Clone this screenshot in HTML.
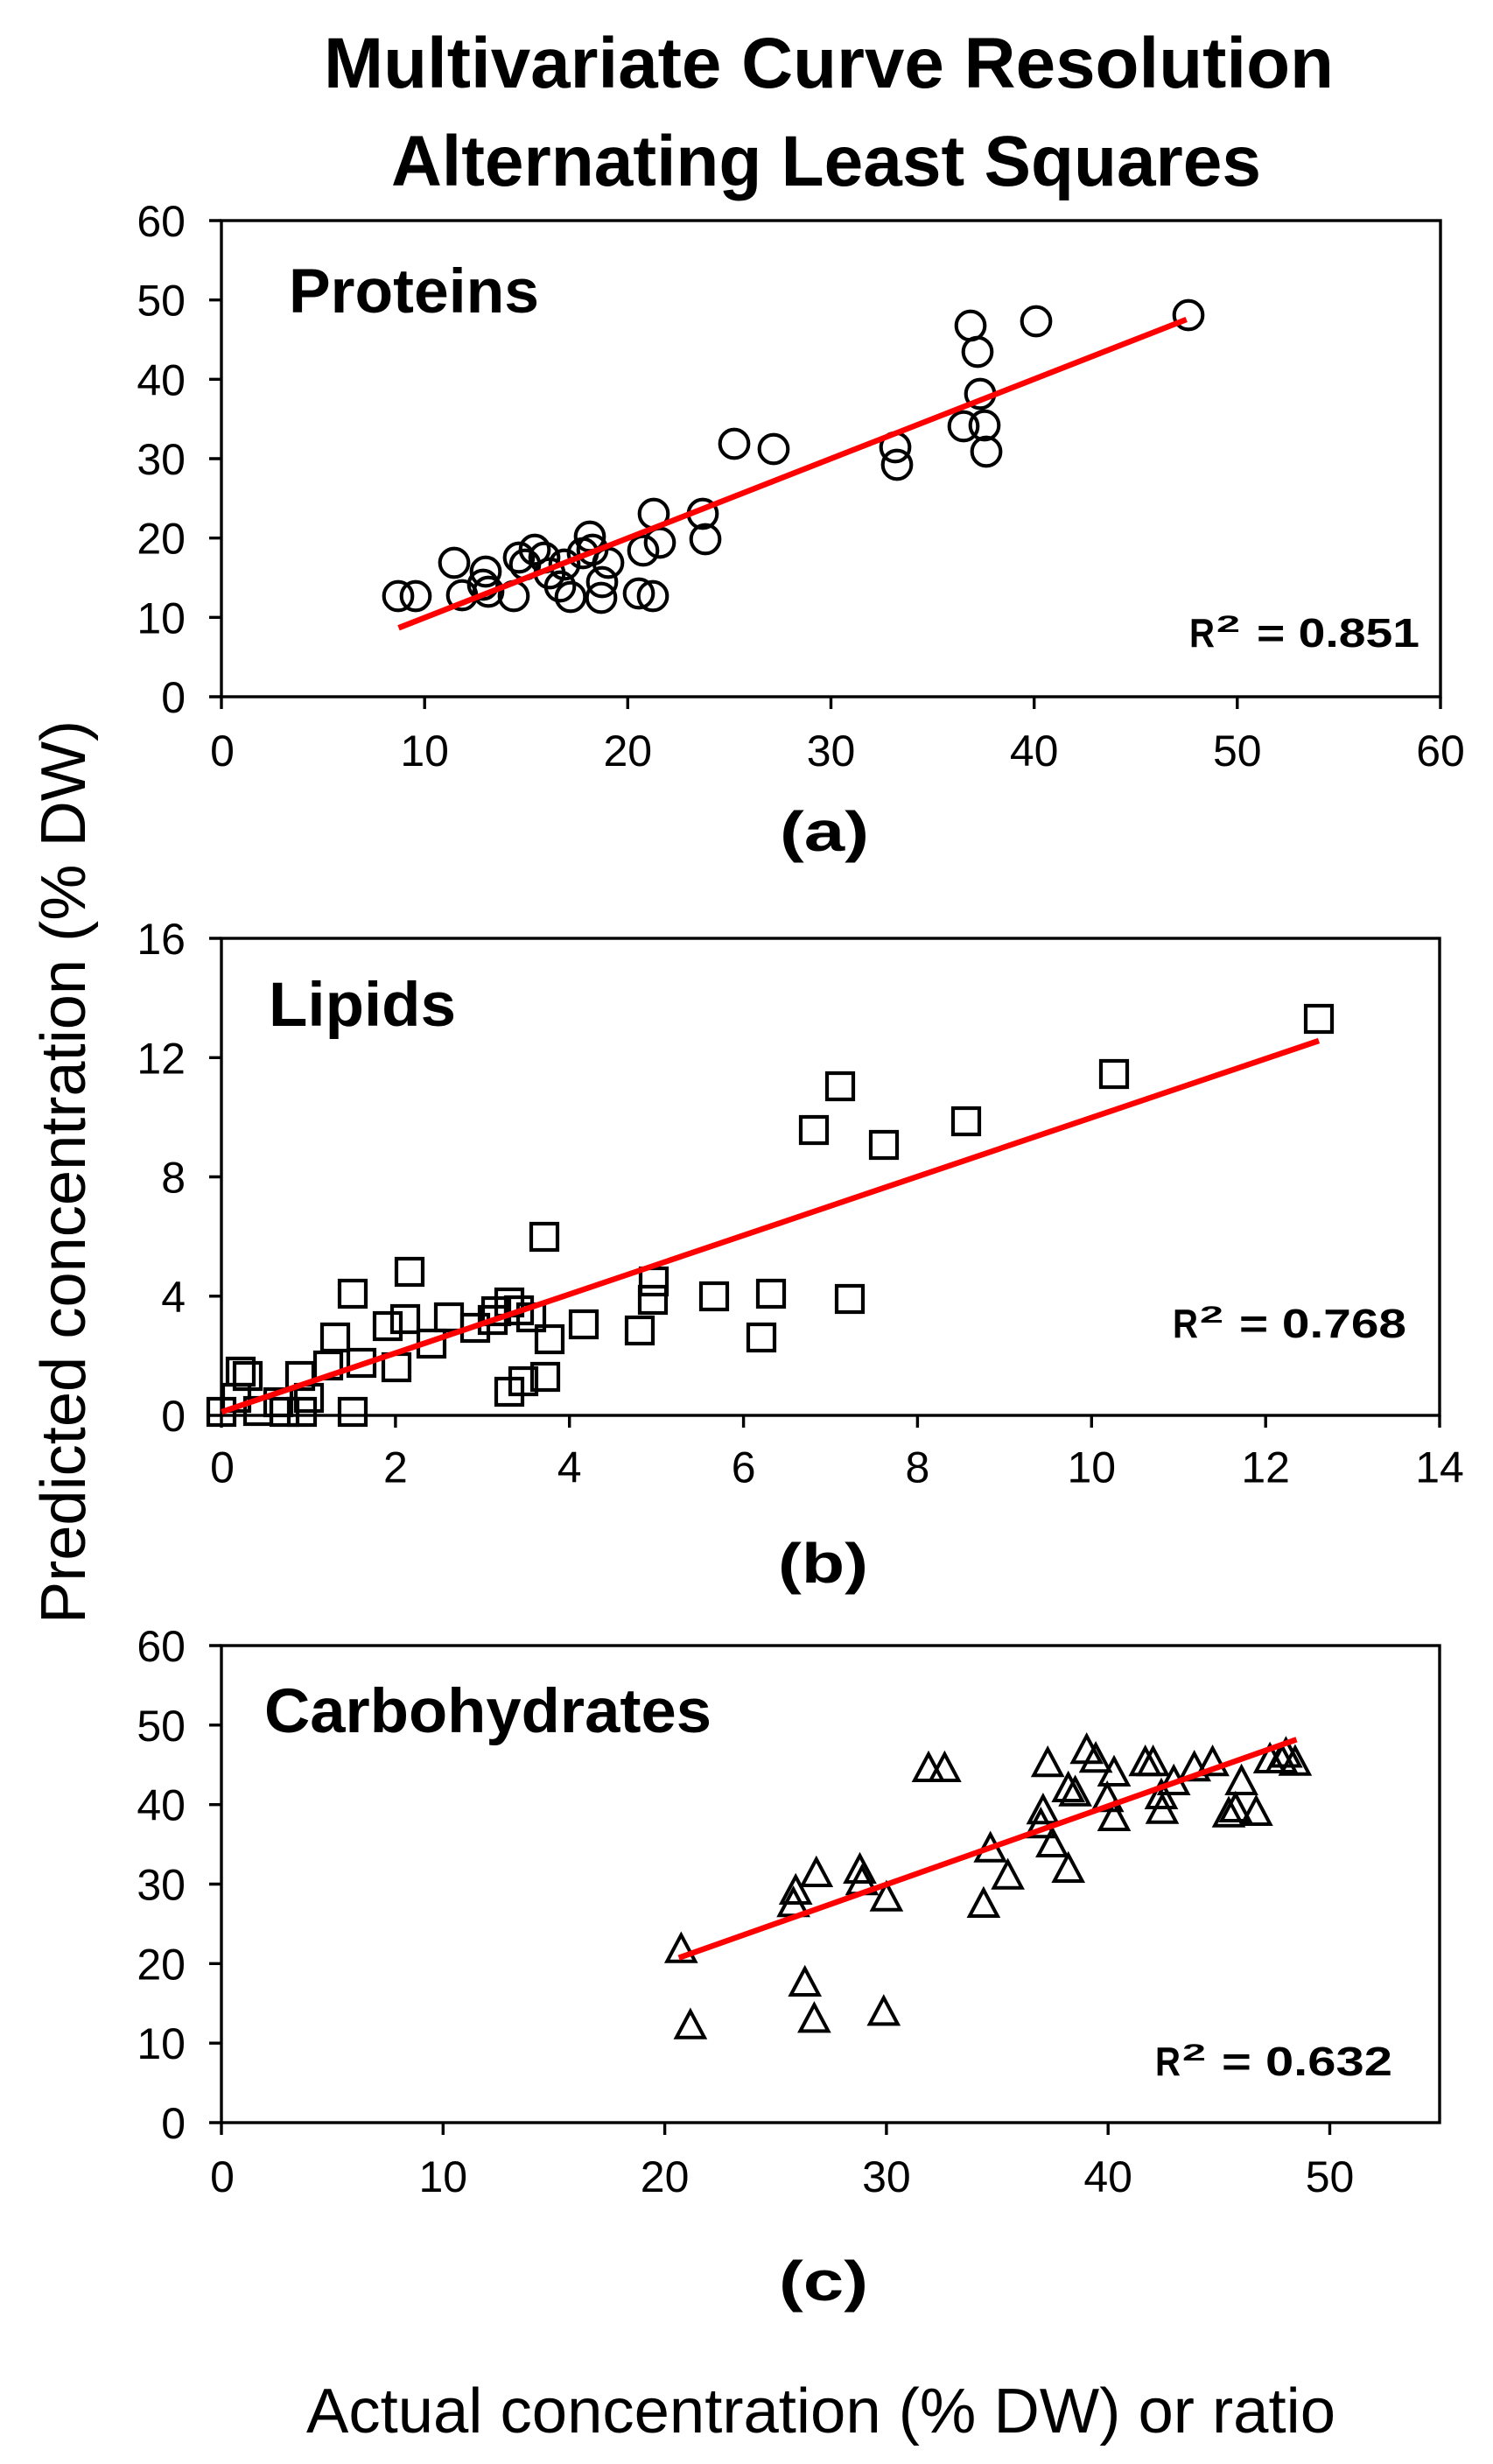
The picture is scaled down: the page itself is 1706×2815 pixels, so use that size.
<!DOCTYPE html>
<html><head><meta charset="utf-8"><style>
html,body{margin:0;padding:0;background:#fff;}
svg{display:block;}
text{font-family:"Liberation Sans",Arial,sans-serif;fill:#000;}
.tk{font-size:50px;}
.b{font-weight:bold;}
</style></head><body>
<svg width="1706" height="2815" viewBox="0 0 1706 2815" xmlns="http://www.w3.org/2000/svg">
<rect width="1706" height="2815" fill="#fff"/>
<!-- Title -->
<text class="b" x="370" y="100" font-size="82" textLength="1154" lengthAdjust="spacingAndGlyphs">Multivariate Curve Resolution</text>
<text class="b" x="447" y="212" font-size="82" textLength="994" lengthAdjust="spacingAndGlyphs">Alternating Least Squares</text>

<!-- Y axis label -->
<text transform="translate(97,1339) rotate(-90)" x="0" y="0" font-size="72" text-anchor="middle" textLength="1032" lengthAdjust="spacingAndGlyphs">Predicted concentration (% DW)</text>
<!-- X axis label -->
<text x="350" y="2779" font-size="72" textLength="1176" lengthAdjust="spacingAndGlyphs">Actual concentration (% DW) or ratio</text>

<!-- ============ Plot (a) ============ -->
<g stroke="#000" stroke-width="3.4" fill="none">
<rect x="253" y="252" width="1393" height="544"/>
<path d="M239 796H253M239 705.3H253M239 614.7H253M239 524H253M239 433.3H253M239 342.7H253M239 252H253"/>
<path d="M253 796V810M485.2 796V810M717.3 796V810M949.5 796V810M1181.7 796V810M1413.8 796V810M1646 796V810"/>
</g>
<g class="tk" text-anchor="end">
<text x="212" y="814">0</text><text x="212" y="723.3">10</text><text x="212" y="632.7">20</text><text x="212" y="542">30</text><text x="212" y="451.3">40</text><text x="212" y="360.7">50</text><text x="212" y="270">60</text>
</g>
<g class="tk" text-anchor="middle">
<text x="254" y="875">0</text><text x="485.2" y="875">10</text><text x="717.3" y="875">20</text><text x="949.5" y="875">30</text><text x="1181.7" y="875">40</text><text x="1413.8" y="875">50</text><text x="1646" y="875">60</text>
</g>
<text class="b" x="330" y="357" font-size="71" textLength="286" lengthAdjust="spacingAndGlyphs">Proteins</text>
<g fill="none" stroke="#000" stroke-width="4.1">
<circle cx="1358" cy="360" r="16.3"/><circle cx="1184" cy="367" r="16.3"/><circle cx="1109" cy="372" r="16.3"/><circle cx="1117" cy="402" r="16.3"/>
<circle cx="1120" cy="450" r="16.3"/><circle cx="1125" cy="486" r="16.3"/><circle cx="1101" cy="487" r="16.3"/><circle cx="1127" cy="516" r="16.3"/>
<circle cx="1023" cy="511" r="16.3"/><circle cx="1025" cy="531" r="16.3"/><circle cx="839" cy="507" r="16.3"/><circle cx="884" cy="513" r="16.3"/>
<circle cx="747" cy="587" r="16.3"/><circle cx="803" cy="587" r="16.3"/><circle cx="806" cy="616" r="16.3"/><circle cx="754" cy="620" r="16.3"/>
<circle cx="735" cy="629" r="16.3"/><circle cx="746" cy="681" r="16.3"/><circle cx="730" cy="678" r="16.3"/><circle cx="674" cy="613" r="16.3"/>
<circle cx="677" cy="628" r="16.3"/><circle cx="695" cy="643" r="16.3"/><circle cx="688" cy="665" r="16.3"/><circle cx="687" cy="683" r="16.3"/>
<circle cx="652" cy="682" r="16.3"/><circle cx="640" cy="670" r="16.3"/><circle cx="645" cy="645" r="16.3"/><circle cx="622" cy="637" r="16.3"/>
<circle cx="611" cy="628" r="16.3"/><circle cx="593" cy="637" r="16.3"/><circle cx="587" cy="681" r="16.3"/><circle cx="552" cy="668" r="16.3"/>
<circle cx="555" cy="653" r="16.3"/><circle cx="528" cy="680" r="16.3"/><circle cx="519" cy="643" r="16.3"/><circle cx="475" cy="681" r="16.3"/>
<circle cx="455" cy="681" r="16.3"/><circle cx="558" cy="676" r="16.3"/><circle cx="628" cy="655" r="16.3"/><circle cx="666" cy="632" r="16.3"/>
<circle cx="600" cy="645" r="16.3"/>
</g>
<line x1="455.5" y1="717.3" x2="1355.7" y2="365" stroke="#ff0000" stroke-width="6.5"/>
<text class="b" x="1359" y="739" font-size="46" textLength="29" lengthAdjust="spacingAndGlyphs">R</text>
<text class="b" x="1390" y="722" font-size="27" textLength="27" lengthAdjust="spacingAndGlyphs">2</text>
<text class="b" x="1436" y="739" font-size="46" textLength="186" lengthAdjust="spacingAndGlyphs">= 0.851</text>
<text class="b" x="891" y="972" font-size="64" textLength="102" lengthAdjust="spacingAndGlyphs">(a)</text>

<!-- ============ Plot (b) ============ -->
<g stroke="#000" stroke-width="3.4" fill="none">
<rect x="253" y="1072" width="1392" height="545"/>
<path d="M239 1617H253M239 1480.8H253M239 1344.5H253M239 1208.3H253M239 1072H253"/>
<path d="M253 1617V1631M451.9 1617V1631M650.7 1617V1631M849.6 1617V1631M1048.4 1617V1631M1247.3 1617V1631M1446.2 1617V1631M1645 1617V1631"/>
</g>
<g class="tk" text-anchor="end">
<text x="212" y="1635">0</text><text x="212" y="1498.8">4</text><text x="212" y="1362.5">8</text><text x="212" y="1226.3">12</text><text x="212" y="1090">16</text>
</g>
<g class="tk" text-anchor="middle">
<text x="254" y="1693.5">0</text><text x="451.9" y="1693.5">2</text><text x="650.7" y="1693.5">4</text><text x="849.6" y="1693.5">6</text><text x="1048.4" y="1693.5">8</text><text x="1247.3" y="1693.5">10</text><text x="1446.2" y="1693.5">12</text><text x="1645" y="1693.5">14</text>
</g>
<text class="b" x="307" y="1172" font-size="71" textLength="214" lengthAdjust="spacingAndGlyphs">Lipids</text>
<g fill="none" stroke="#000" stroke-width="4.2">
<rect x="1492" y="1149" width="30" height="30"/><rect x="1258" y="1212" width="30" height="30"/><rect x="945" y="1226" width="30" height="30"/>
<rect x="915" y="1276" width="30" height="30"/><rect x="995" y="1293" width="30" height="30"/><rect x="1089" y="1266" width="30" height="30"/>
<rect x="732" y="1449" width="30" height="30"/><rect x="731" y="1470" width="30" height="30"/><rect x="801" y="1466" width="30" height="30"/>
<rect x="866" y="1463" width="30" height="30"/><rect x="956" y="1469" width="30" height="30"/><rect x="855" y="1513" width="30" height="30"/>
<rect x="716" y="1505" width="30" height="30"/>
<rect x="607" y="1398" width="30" height="30"/><rect x="453" y="1438" width="30" height="30"/><rect x="388" y="1463" width="30" height="30"/>
<rect x="448" y="1492" width="30" height="30"/><rect x="428" y="1500" width="30" height="30"/><rect x="498" y="1490" width="30" height="30"/>
<rect x="478" y="1520" width="30" height="30"/><rect x="528" y="1502" width="30" height="30"/><rect x="567" y="1473" width="30" height="30"/>
<rect x="552" y="1483" width="30" height="30"/><rect x="548" y="1493" width="30" height="30"/><rect x="578" y="1482" width="30" height="30"/>
<rect x="592" y="1490" width="30" height="30"/><rect x="613" y="1515" width="30" height="30"/><rect x="652" y="1498" width="30" height="30"/>
<rect x="608" y="1558" width="30" height="30"/><rect x="583" y="1563" width="30" height="30"/><rect x="567" y="1575" width="30" height="30"/>
<rect x="438" y="1547" width="30" height="30"/><rect x="398" y="1542" width="30" height="30"/><rect x="368" y="1513" width="30" height="30"/>
<rect x="360" y="1545" width="30" height="30"/><rect x="328" y="1557" width="30" height="30"/><rect x="388" y="1598" width="30" height="30"/>
<rect x="330" y="1598" width="30" height="30"/><rect x="238" y="1598" width="30" height="30"/><rect x="255" y="1582" width="30" height="30"/>
<rect x="268" y="1557" width="30" height="30"/><rect x="260" y="1552" width="30" height="30"/><rect x="280" y="1597" width="30" height="30"/>
<rect x="303" y="1587" width="30" height="30"/><rect x="310" y="1598" width="30" height="30"/><rect x="338" y="1582" width="30" height="30"/>
</g>
<line x1="253.3" y1="1613" x2="1507" y2="1189" stroke="#ff0000" stroke-width="6.5"/>
<text class="b" x="1340" y="1528" font-size="46" textLength="29" lengthAdjust="spacingAndGlyphs">R</text>
<text class="b" x="1371" y="1511" font-size="27" textLength="27" lengthAdjust="spacingAndGlyphs">2</text>
<text class="b" x="1416" y="1528" font-size="46" textLength="191" lengthAdjust="spacingAndGlyphs">= 0.768</text>
<text class="b" x="889" y="1808" font-size="64" textLength="103" lengthAdjust="spacingAndGlyphs">(b)</text>

<!-- ============ Plot (c) ============ -->
<g stroke="#000" stroke-width="3.4" fill="none">
<rect x="253" y="1880" width="1392" height="545"/>
<path d="M239 2425H253M239 2334.2H253M239 2243.3H253M239 2152.5H253M239 2061.7H253M239 1970.8H253M239 1880H253"/>
<path d="M253 2425V2439M506.3 2425V2439M759.6 2425V2439M1012.9 2425V2439M1266.2 2425V2439M1519.5 2425V2439"/>
</g>
<g class="tk" text-anchor="end">
<text x="212" y="2443">0</text><text x="212" y="2352.2">10</text><text x="212" y="2261.3">20</text><text x="212" y="2170.5">30</text><text x="212" y="2079.7">40</text><text x="212" y="1988.8">50</text><text x="212" y="1898">60</text>
</g>
<g class="tk" text-anchor="middle">
<text x="254" y="2504">0</text><text x="506.3" y="2504">10</text><text x="759.6" y="2504">20</text><text x="1012.9" y="2504">30</text><text x="1266.2" y="2504">40</text><text x="1519.5" y="2504">50</text>
</g>
<text class="b" x="302" y="1979" font-size="71" textLength="511" lengthAdjust="spacingAndGlyphs">Carbohydrates</text>
<g fill="none" stroke="#000" stroke-width="4" stroke-linejoin="miter">
<path d="M778.3 2210.7l16 30h-32z"/><path d="M919.7 2249l16 30h-32z"/><path d="M1061 2004l16 30h-32z"/><path d="M1079.4 2004l16 30h-32z"/>
<path d="M932.8 2124l16 30h-32z"/><path d="M909.2 2144l16 30h-32z"/><path d="M906.6 2158.3l16 30h-32z"/><path d="M982.5 2120l16 30h-32z"/>
<path d="M985 2133.3l16 30h-32z"/><path d="M1012.9 2151.7l16 30h-32z"/><path d="M1131.7 2095.7l16 30h-32z"/><path d="M1123.9 2159l16 30h-32z"/>
<path d="M1151.6 2126.7l16 30h-32z"/><path d="M1202.4 2090l16 30h-32z"/><path d="M1220.7 2119l16 30h-32z"/><path d="M1191.9 2052.3l16 30h-32z"/>
<path d="M1189.3 2068.3l16 30h-32z"/><path d="M1197.2 1998.3l16 30h-32z"/><path d="M1241.7 1983.3l16 30h-32z"/><path d="M1252.1 1993.3l16 30h-32z"/>
<path d="M1273 2009l16 30h-32z"/><path d="M1220.7 2027l16 30h-32z"/><path d="M1228.6 2031.7l16 30h-32z"/><path d="M1265.2 2038.3l16 30h-32z"/>
<path d="M1273 2060l16 30h-32z"/><path d="M1308.7 1997.3l16 30h-32z"/><path d="M1317.6 1997.3l16 30h-32z"/><path d="M1341.2 2019l16 30h-32z"/>
<path d="M1328 2051.7l16 30h-32z"/><path d="M1327 2035l16 30h-32z"/><path d="M1364.7 2003.3l16 30h-32z"/><path d="M1385.6 1997.3l16 30h-32z"/>
<path d="M1418.6 2019l16 30h-32z"/><path d="M1404 2055.7l16 30h-32z"/><path d="M1411.8 2050l16 30h-32z"/><path d="M1435.4 2054l16 30h-32z"/>
<path d="M1451.1 1994l16 30h-32z"/><path d="M1464.2 1994l16 30h-32z"/><path d="M1479.9 1996.7l16 30h-32z"/><path d="M1469.4 1987.5l16 30h-32z"/>
<path d="M788.9 2297.8l16 30h-32z"/><path d="M930.4 2290.4l16 30h-32z"/><path d="M1009.8 2282.4l16 30h-32z"/>
</g>
<line x1="775.7" y1="2236.7" x2="1481.5" y2="1987.3" stroke="#ff0000" stroke-width="6.5"/>
<text class="b" x="1320" y="2371" font-size="46" textLength="29" lengthAdjust="spacingAndGlyphs">R</text>
<text class="b" x="1351" y="2354" font-size="27" textLength="27" lengthAdjust="spacingAndGlyphs">2</text>
<text class="b" x="1396" y="2371" font-size="46" textLength="195" lengthAdjust="spacingAndGlyphs">= 0.632</text>
<text class="b" x="890" y="2628" font-size="64" textLength="102" lengthAdjust="spacingAndGlyphs">(c)</text>
</svg>
</body></html>
